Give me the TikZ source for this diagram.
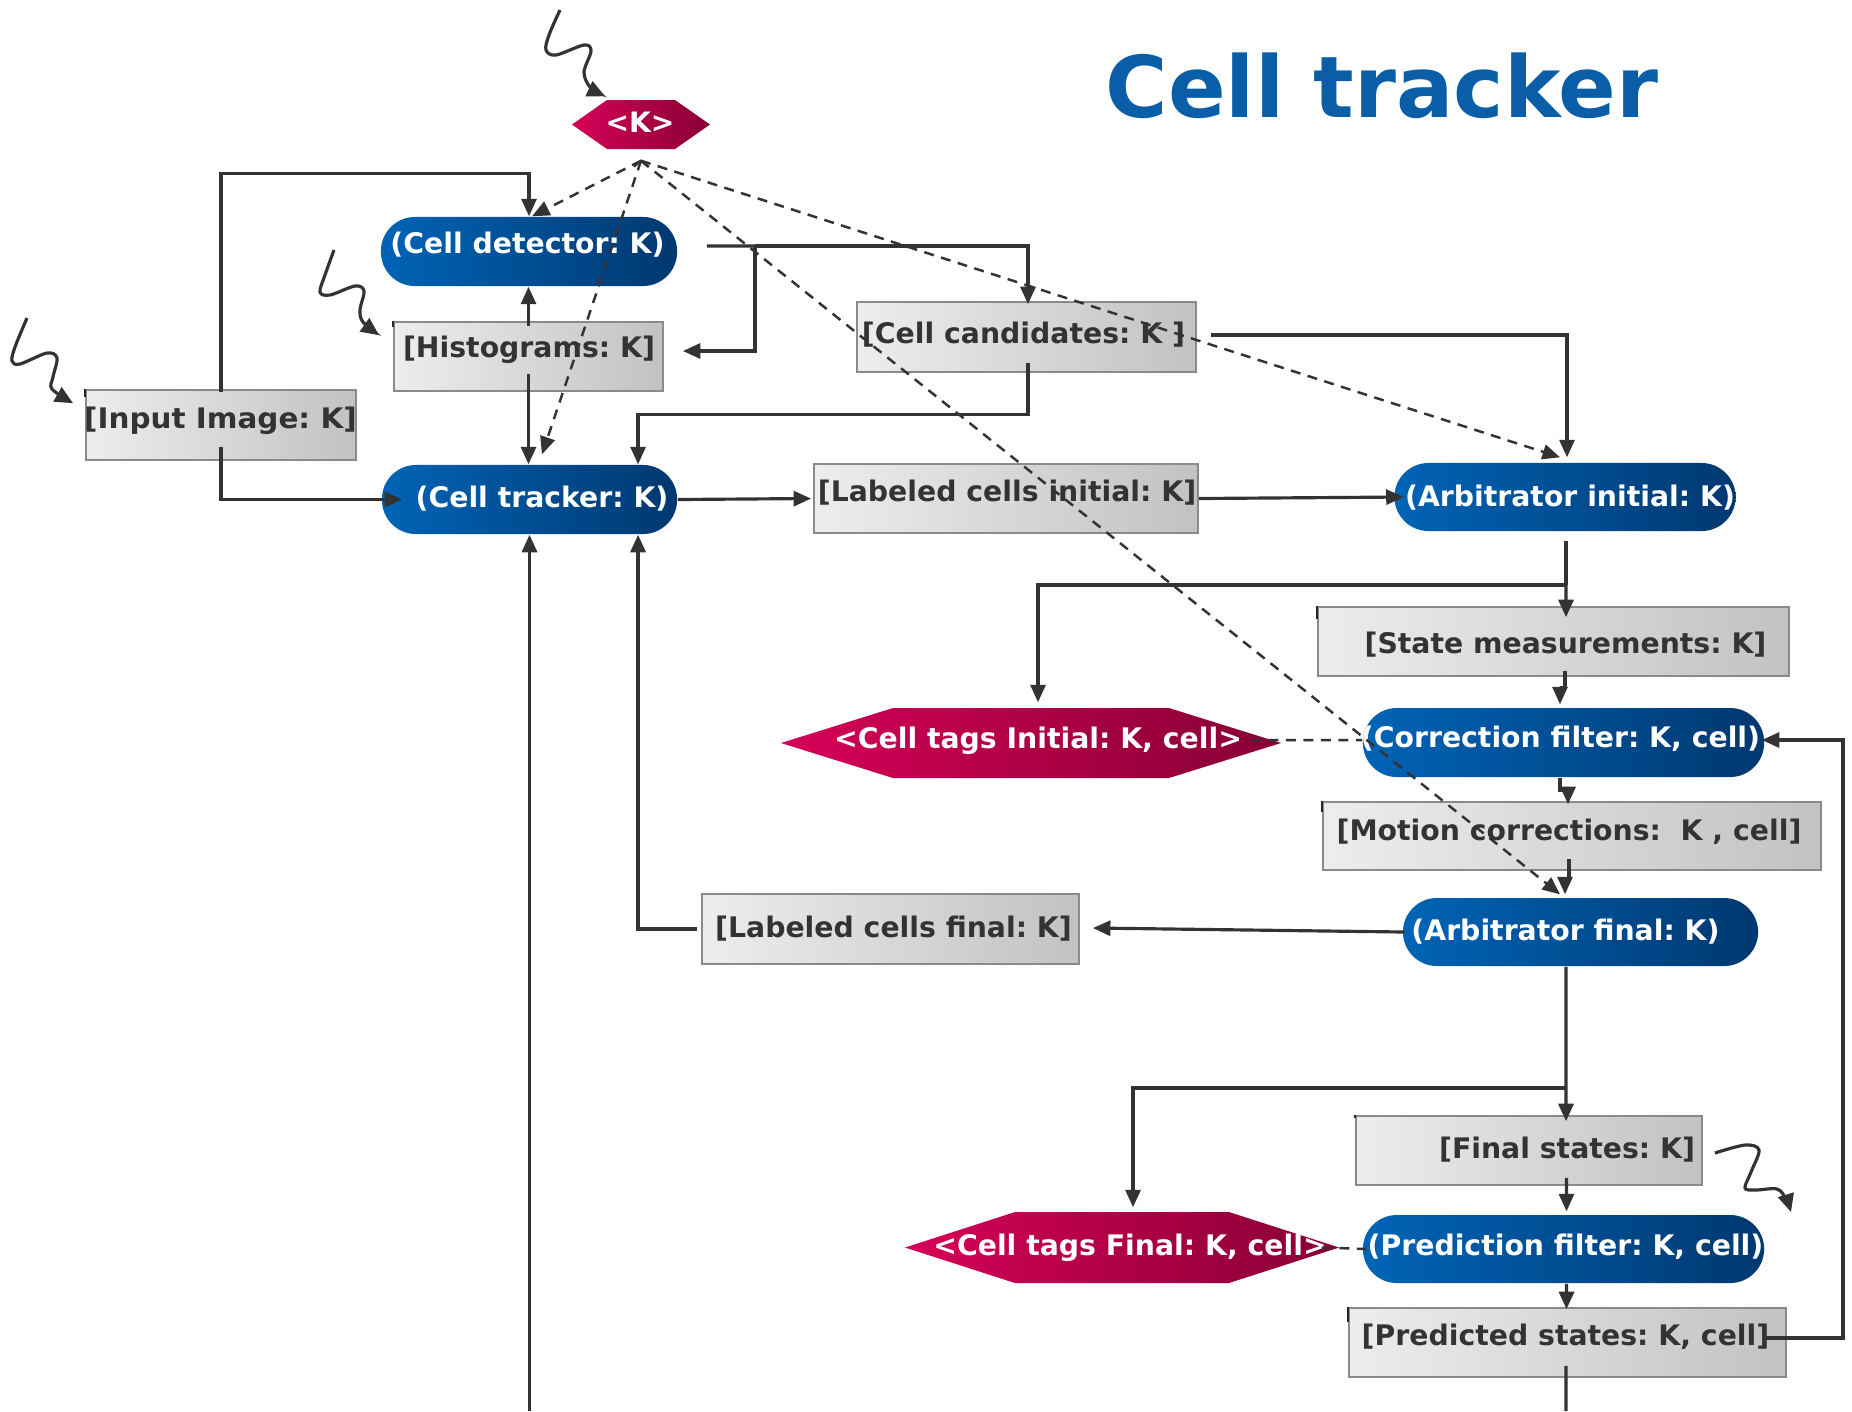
\documentclass[tikz,border=0pt]{standalone}
\usepackage{fontspec}
\setmainfont{DejaVu Sans}
\usetikzlibrary{arrows.meta}
\frenchspacing

\definecolor{ink}{RGB}{51,51,51}
\definecolor{titleblue}{RGB}{10,94,168}
\definecolor{pillL}{RGB}{0,100,182}
\definecolor{pillR}{RGB}{0,56,112}
\definecolor{hexL}{RGB}{214,0,88}
\definecolor{hexR}{RGB}{135,0,52}
\definecolor{boxL}{RGB}{237,237,237}
\definecolor{boxR}{RGB}{194,194,194}
\definecolor{boxedge}{RGB}{138,138,138}

% shaded hexagon plus an invisible node carrying its name:
% name, cx, cy, half width, half height, depth of the point
\newcommand\hexat[6]{%
  \shade[hexfill] ({#2-#4},{#3}) -- ({#2-#4+#6},{#3-#5}) -- ({#2+#4-#6},{#3-#5})
    -- ({#2+#4},{#3}) -- ({#2+#4-#6},{#3+#5}) -- ({#2-#4+#6},{#3+#5}) -- cycle;
  \node[hexbase, minimum width={2*#4*0.284528pt}, minimum height={2*#5*0.284528pt}] (#1) at (#2,#3) {};
}

\tikzset{
  pill/.style={rectangle, rounded corners=0.34cm, left color=pillL, right color=pillR, draw=none, inner sep=0pt},
  graybox/.style={rectangle, draw=boxedge, line width=0.45pt, left color=boxL, right color=boxR, inner sep=0pt},
  hexbase/.style={rectangle, draw=none, inner sep=0pt},
  hexfill/.style={left color=hexL, right color=hexR},
  lbl/.style={anchor=base, inner sep=0pt, font=\fontsize{8.05pt}{9pt}\selectfont\bfseries, text=ink},
  wlbl/.style={lbl, text=white},
  conn/.style={draw=ink, line width=0.9pt, -{Triangle[length=0.175cm,width=0.15cm]}},
  plain/.style={draw=ink, line width=0.9pt},
  dconn/.style={draw=ink, line width=0.7pt, dash pattern=on 0.1cm off 0.075cm, -{Triangle[length=0.175cm,width=0.15cm]}},
  dplain/.style={draw=ink, line width=0.7pt, dash pattern=on 0.1cm off 0.075cm},
  wave/.style={draw=ink, line width=0.9pt, -{Triangle[length=0.18cm,width=0.16cm]}},
  cornertick/.style={draw=black!85, line width=0.6pt},
}

\begin{document}
\begin{tikzpicture}[x=0.01cm, y=-0.01cm]
\fill[white] (0,0) rectangle (1852,1411);
\useasboundingbox (0,0) rectangle (1852,1411);

% title
\node[anchor=base, inner sep=0pt, font=\fontsize{24.2pt}{28pt}\selectfont\bfseries, text=titleblue] (title) at (1382,117) {Cell tracker};

% process pills
\node[pill, minimum width=2.96cm, minimum height=0.69cm] (cdet) at (529,251.5) {};
\node[pill, minimum width=2.95cm, minimum height=0.69cm] (ctrk) at (529.5,499.5) {};
\node[pill, minimum width=3.41cm, minimum height=0.68cm] (arbi) at (1565,497) {};
\node[pill, minimum width=4.01cm, minimum height=0.69cm] (corr) at (1563.5,742.5) {};
\node[pill, minimum width=3.55cm, minimum height=0.68cm] (arbf) at (1580.5,932) {};
\node[pill, minimum width=4.01cm, minimum height=0.68cm] (pred) at (1563.5,1249) {};

% data boxes
\node[graybox, minimum width=2.69cm, minimum height=0.69cm] (hist) at (528.5,356.5) {};
\node[graybox, minimum width=2.70cm, minimum height=0.70cm] (inp) at (221,425) {};
\node[graybox, minimum width=3.39cm, minimum height=0.70cm] (cand) at (1026.5,337) {};
\node[graybox, minimum width=3.84cm, minimum height=0.69cm] (lci) at (1006,498.5) {};
\node[graybox, minimum width=4.71cm, minimum height=0.69cm] (stm) at (1553.5,641.5) {};
\node[graybox, minimum width=4.98cm, minimum height=0.68cm] (mot) at (1572,836) {};
\node[graybox, minimum width=3.77cm, minimum height=0.70cm] (lcf) at (890.5,929) {};
\node[graybox, minimum width=3.46cm, minimum height=0.69cm] (fin) at (1529,1150.5) {};
\node[graybox, minimum width=4.37cm, minimum height=0.69cm] (pst) at (1567.5,1342.5) {};

% small dark marks at the top left corners of some boxes
\draw[cornertick] (hist.north west) -- ++(0,6);
\draw[cornertick] (inp.north west) -- ++(0,8);
\draw[cornertick] (stm.north west) -- ++(0,13);
\draw[cornertick] (mot.north west) -- ++(0,11);
\draw[cornertick] (fin.north west) -- ++(0,3);
\draw[cornertick] (pst.north west) -- ++(0,15);

% index hexagons
\hexat{kh}{641}{124.5}{69}{24.5}{35}
\hexat{tagi}{1031}{743}{250}{35}{112}
\hexat{tagf}{1122}{1247.5}{217}{35.5}{110}

% labels
\node[wlbl] (cdet-t) at (527.5,253) {(Cell detector: K)};
\node[wlbl] (ctrk-t) at (542,507) {(Cell tracker: K)};
\node[wlbl] (arbi-t) at (1570,506) {(Arbitrator initial: K)};
\node[wlbl] (corr-t) at (1560.5,747.5) {(Correction filter: K, cell)};
\node[wlbl] (arbf-t) at (1565.5,940) {(Arbitrator final: K)};
\node[wlbl] (pred-t) at (1565.5,1255) {(Prediction filter: K, cell)};
\node[lbl] (hist-t) at (529,357.5) {[Histograms: K]};
\node[lbl] (inp-t) at (220.5,428) {\scalebox{1.04}[1]{[Input Image: K]}};
\node[lbl] (cand-t) at (1023.5,343) {[Cell candidates: K ]};
\node[lbl] (lci-t) at (1007,501) {[Labeled cells initial: K]};
\node[lbl] (stm-t) at (1565.5,653) {[State measurements: K]};
\node[lbl] (mot-t) at (1569,840) {[Motion corrections:\ \ K , cell]};
\node[lbl] (lcf-t) at (893.5,937) {[Labeled cells final: K]};
\node[lbl] (fin-t) at (1567,1158) {[Final states: K]};
\node[lbl] (pst-t) at (1565.5,1345) {[Predicted states: K, cell]};
\node[wlbl] (tagi-t) at (1038,748) {<Cell tags Initial: K, cell>};
\node[wlbl] (tagf-t) at (1130,1255) {<Cell tags Final: K, cell>};
\node[wlbl, font=\fontsize{8pt}{9pt}\selectfont\bfseries] (kh-t) at (640,132) {<K>};

% solid connectors
\draw[conn] ([yshift=-0.03cm]inp.north) -- ++(0,-219) -| (cdet.north);
\draw[conn] ([yshift=0.14cm]inp.south) |- ([xshift=0.21cm]ctrk.west);
\draw[conn] ([yshift=-0.05cm]hist.north) -- (hist.north |- cdet.south);
\draw[conn] ([yshift=0.18cm]hist.south) -- (hist.south |- ctrk.north);

\coordinate (j1) at (755,246);
\draw[plain] ([xshift=0.29cm,yshift=0.055cm]cdet.east) -- (j1);
\draw[conn] (j1) -| ([xshift=0.015cm,yshift=-0.03cm]cand.north);
\draw[conn] (j1) |- ([xshift=0.19cm,yshift=0.055cm]hist.east);

\draw[conn] ([xshift=0.015cm,yshift=0.1cm]cand.south) -- ++(0,52) -| ([xshift=1.085cm]ctrk.north);
\draw[conn] ([xshift=0.14cm,yshift=0.02cm]cand.east) -| ([xshift=0.02cm,yshift=0.05cm]arbi.north);
\draw[conn] (ctrk.east) -- ([xshift=-0.02cm]lci.west);
\draw[conn] (lci.east) -- ([xshift=0.1cm]arbi.west);

\coordinate (j2) at (1566,585);
\draw[plain] ([xshift=0.01cm,yshift=-0.09cm]arbi.south) -- (j2);
\draw[conn] (j2) -- ([xshift=0.125cm,yshift=-0.11cm]stm.north);
\draw[conn] (j2) -| ([xshift=0.07cm,yshift=0.05cm]tagi.north);

\draw[conn] ([xshift=0.115cm,yshift=0.06cm]stm.south) -- ++(0,17) -| ([xshift=-0.035cm,yshift=0.03cm]corr.north);
\draw[conn] ([xshift=-0.035cm]corr.south) -- ++(0,13) -| ([xshift=-0.04cm,yshift=-0.03cm]mot.north);
\draw[conn] ([xshift=-0.03cm,yshift=0.12cm]mot.south) -- ++(0,20) -| ([xshift=-0.155cm,yshift=0.03cm]arbf.north);
\draw[conn] ([xshift=0.02cm]arbf.west) -- ([xshift=0.13cm,yshift=0.01cm]lcf.east);
\draw[conn] ([xshift=-0.04cm]lcf.west) -| ([xshift=1.085cm]ctrk.south);

\coordinate (j3) at (1566,1088);
\draw[plain] ([xshift=-0.145cm]arbf.south) -- (j3);
\draw[conn] (j3) -- ([xshift=0.37cm,yshift=-0.06cm]fin.north);
\draw[conn] (j3) -| ([xshift=0.11cm,yshift=0.04cm]tagf.north);

\draw[conn] ([xshift=0.375cm,yshift=0.08cm]fin.south) -- ([xshift=0.03cm,yshift=0.03cm]pred.north);
\draw[conn] ([xshift=0.03cm]pred.south) -- ([xshift=-0.01cm,yshift=-0.02cm]pst.north);
\draw[conn] ([xshift=-0.22cm,yshift=0.045cm]pst.east) -- ++(78,0) |- ([xshift=-0.03cm,yshift=0.025cm]corr.east);

\coordinate (outp) at (1566,1411);
\draw[plain] ([xshift=-0.015cm,yshift=0.12cm]pst.south) -- (outp);
\coordinate (intk) at (529.5,1411);
\draw[conn] (intk) -- (ctrk.south);

% dashed index connectors
\coordinate (kap) at ([yshift=-0.11cm]kh.south);
\draw[dconn] (kap) -- ([xshift=0.03cm]cdet.north);
\draw[dconn] (kap) -- ([xshift=0.125cm,yshift=0.1cm]ctrk.north);
\draw[dconn] (kap) -- ([xshift=-0.05cm,yshift=0.05cm]arbi.north);
\draw[dconn] (kap) -- ([xshift=-0.205cm,yshift=0.03cm]arbf.north);
\draw[ink, line width=0.6pt] ([xshift=-0.07cm,yshift=-0.06cm]kap) -- (kap) -- ([xshift=0.07cm,yshift=-0.06cm]kap);
\draw[dplain] ([xshift=-0.31cm,yshift=0.03cm]tagi.east) -- ([yshift=0.025cm]corr.west);
\draw[dplain] ([xshift=-0.18cm]tagf.east) -- ([xshift=0.04cm]pred.west);

% wavy input arrows
\coordinate (wk) at (560,10);
\coordinate (wi) at (27,318);
\coordinate (wh) at (334,250);
\coordinate (wf) at ([xshift=0.12cm,yshift=-0.025cm]fin.east);
\coordinate (wfend) at (1791,1212);
\draw[wave] plot[smooth, tension=0.55] coordinates {(wk) (549,35) (546,50) (556,55) (584,45) (591,51) (584,72) (590,87) ([xshift=0.34cm,yshift=0.03cm]kh.north west)};
\draw[wave] plot[smooth, tension=0.55] coordinates {(wi) (15,347) (12,361) (20,364) (47,353) (57,358) (53,377) (52,389) ([xshift=-0.12cm,yshift=-0.14cm]inp.north west)};
\draw[wave] plot[smooth, tension=0.55] coordinates {(wh) (325,275) (320,292) (330,295) (355,286) (364,291) (360,310) (363,322) ([xshift=-0.14cm,yshift=-0.14cm]hist.north west)};
\draw[wave] plot[smooth, tension=0.55] coordinates {(wf) (1745,1145) (1759,1150) (1751,1172) (1745,1188) (1756,1190) (1777,1189) (1786,1199) (wfend)};

\end{tikzpicture}
\end{document}
